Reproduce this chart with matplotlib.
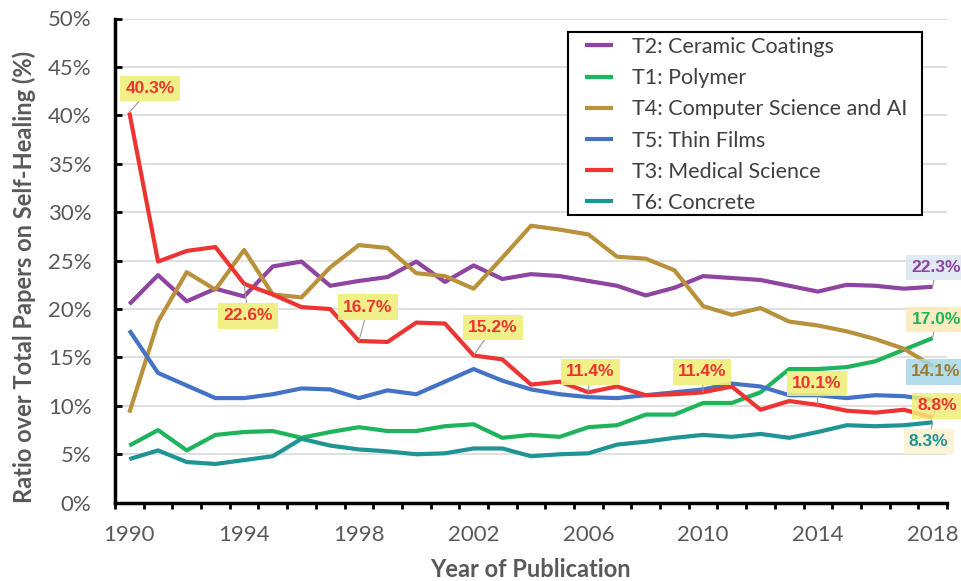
import numpy as np
import matplotlib.pyplot as plt
from matplotlib.patches import Rectangle

# Data (percent of total self-healing papers per year)
years = np.arange(1990, 2019)

t2_ceramic = [20.5, 23.5, 20.8, 22.1, 21.3, 24.4, 24.9, 22.4, 22.9, 23.3,
              24.9, 22.8, 24.5, 23.1, 23.6, 23.4, 22.9, 22.4, 21.4, 22.2,
              23.4, 23.2, 23.0, 22.4, 21.8, 22.5, 22.4, 22.1, 22.3]
t1_polymer = [5.9, 7.5, 5.4, 7.0, 7.3, 7.4, 6.7, 7.3, 7.8, 7.4,
              7.4, 7.9, 8.1, 6.7, 7.0, 6.8, 7.8, 8.0, 9.1, 9.1,
              10.3, 10.3, 11.4, 13.8, 13.8, 14.0, 14.6, 15.8, 17.0]
t4_cs_ai = [9.3, 18.7, 23.8, 22.0, 26.1, 21.5, 21.2, 24.3, 26.6, 26.3,
            23.7, 23.4, 22.1, 25.3, 28.6, 28.2, 27.7, 25.4, 25.2, 24.0,
            20.3, 19.4, 20.1, 18.7, 18.3, 17.7, 16.9, 15.9, 14.1]
t5_thin = [17.8, 13.4, 12.1, 10.8, 10.8, 11.2, 11.8, 11.7, 10.8, 11.6,
           11.2, 12.5, 13.8, 12.6, 11.7, 11.2, 10.9, 10.8, 11.1, 11.4,
           11.7, 12.3, 12.0, 11.1, 11.1, 10.8, 11.1, 11.0, 10.6]
t3_medical = [40.3, 24.9, 26.0, 26.4, 22.6, 21.5, 20.2, 20.0, 16.7, 16.6,
              18.6, 18.5, 15.2, 14.8, 12.2, 12.5, 11.4, 12.0, 11.1, 11.2,
              11.4, 12.0, 9.6, 10.5, 10.1, 9.5, 9.3, 9.6, 8.8]
t6_concrete = [4.5, 5.4, 4.2, 4.0, 4.4, 4.8, 6.6, 5.9, 5.5, 5.3,
               5.0, 5.1, 5.6, 5.6, 4.8, 5.0, 5.1, 6.0, 6.3, 6.7,
               7.0, 6.8, 7.1, 6.7, 7.3, 8.0, 7.9, 8.0, 8.3]

series = [
    ("T2: Ceramic Coatings", t2_ceramic, "#8E44A0"),
    ("T1: Polymer", t1_polymer, "#1FB45C"),
    ("T4: Computer Science and AI", t4_cs_ai, "#B8913A"),
    ("T5: Thin Films", t5_thin, "#4472C4"),
    ("T3: Medical Science", t3_medical, "#EE3333"),
    ("T6: Concrete", t6_concrete, "#1E9494"),
]

# highlighted points on T3 curve
red_label_years = [1990, 1994, 1998, 2002, 2006, 2010, 2014]
red_label_offsets = [(0.73, 2.5), (0.14, -3.3), (0.32, 3.5), (0.68, 2.9),
                     (0.06, 2.1), (-0.04, 2.1), (-0.04, 2.2)]

plt.rcParams['font.family'] = ['Lato', 'DejaVu Sans']
grey = "#595959"

fig = plt.figure(figsize=(9.61, 5.81), dpi=100)
W, H = 961, 581
ax = fig.add_axes([115 / W, (H - 502.7) / H, 832 / W, 484.2 / H])

for name, vals, col in series:
    ax.plot(years, vals, color=col, lw=3, label=name, solid_capstyle='butt')

ax.set_xlim(1989.5, 2018.5)
ax.set_ylim(0, 50)

ax.set_yticks(np.arange(0, 51, 5))
ax.set_yticklabels([f"{v}%" for v in range(0, 51, 5)])
ax.grid(axis='y', color="#D9D9D9", lw=1.2)
ax.set_axisbelow(True)

ax.set_xticks(np.arange(1989.5, 2019, 1))
ax.set_xticklabels([])
ax.set_xticks(np.arange(1990, 2019, 4), minor=True)
ax.set_xticklabels([str(y) for y in range(1990, 2019, 4)], minor=True)
ax.tick_params(axis='x', which='major', direction='out', length=4.5, width=2, color='black')
ax.tick_params(axis='x', which='minor', length=0, pad=16, labelsize=16, labelcolor=grey)
ax.tick_params(axis='y', direction='in', length=5, width=2, color='black',
               labelsize=16, labelcolor=grey, pad=17)

for s in ['top', 'right']:
    ax.spines[s].set_visible(False)
for s in ['left', 'bottom']:
    ax.spines[s].set_linewidth(2.5)

ax.set_xlabel("Year of Publication", fontsize=17, fontweight='bold', color=grey)
ax.set_ylabel("Ratio over Total Papers on Self-Healing (%)", fontsize=17,
              fontweight='bold', color=grey)
ax.xaxis.set_label_coords((530 - 115) / 832, (502.7 - 558) / 484.2)
ax.yaxis.set_label_coords((36 - 115) / 832, (502.7 - 277) / 484.2)

# red data labels
for yr, (dx, dy) in zip(red_label_years, red_label_offsets):
    v = t3_medical[yr - 1990]
    ax.annotate(f"{v:.1f}%", xy=(yr, v), xytext=(yr + dx, v + dy),
                ha='center', va='center', fontsize=12.5, fontweight='bold',
                family='Liberation Sans', color="#EE3333",
                bbox=dict(boxstyle='square,pad=0.3', fc="#F0EE7A", ec='none', alpha=0.9),
                arrowprops=dict(arrowstyle='-', color='#999999', lw=0.8, shrinkA=0, shrinkB=0))

# end labels
end_labels = [
    (t2_ceramic, "#8E44A0", "#DCE6F2", (0.12, 2.0)),
    (t1_polymer, "#1FB45C", "#FCE9B8", (0.12, 1.9)),
    (t4_cs_ai, "#A07A2A", "#A6D8E8", (0.1, -0.6)),
    (t3_medical, "#EE3333", "#F0EE7A", (0.15, 1.2)),
    (t6_concrete, "#1E9494", "#FCF0CF", (-0.14, -2.0)),
]
for vals, tc, bc, (dx, dy) in end_labels:
    v = vals[-1]
    ax.annotate(f"{v:.1f}%", xy=(2018, v), xytext=(2018 + dx, v + dy),
                ha='center', va='center', fontsize=12.5, fontweight='bold',
                family='Liberation Sans', color=tc, annotation_clip=False,
                bbox=dict(boxstyle='square,pad=0.3', fc=bc, ec='none', alpha=0.85),
                arrowprops=dict(arrowstyle='-', color='#999999', lw=0.8, shrinkA=0, shrinkB=0))

# legend without its own frame, box drawn separately to get Excel-like padding
leg = ax.legend(loc='upper left', bbox_to_anchor=(585 / W, 1 - 37 / H),
                bbox_transform=fig.transFigure, fontsize=15.5, frameon=False,
                handlelength=1.3, handletextpad=0.9, labelspacing=0.52,
                borderpad=0, borderaxespad=0)
for txt in leg.get_texts():
    txt.set_color("#404040")
for ln in leg.get_lines():
    ln.set_linewidth(3)
ax.add_patch(Rectangle((568 / W, 1 - 215 / H), (922 - 568) / W, (215 - 32) / H,
                       transform=fig.transFigure, fc='white', ec='black', lw=1.5,
                       zorder=4.9, clip_on=False))
leg.set_zorder(5)

fig.savefig("out.png", dpi=100)
